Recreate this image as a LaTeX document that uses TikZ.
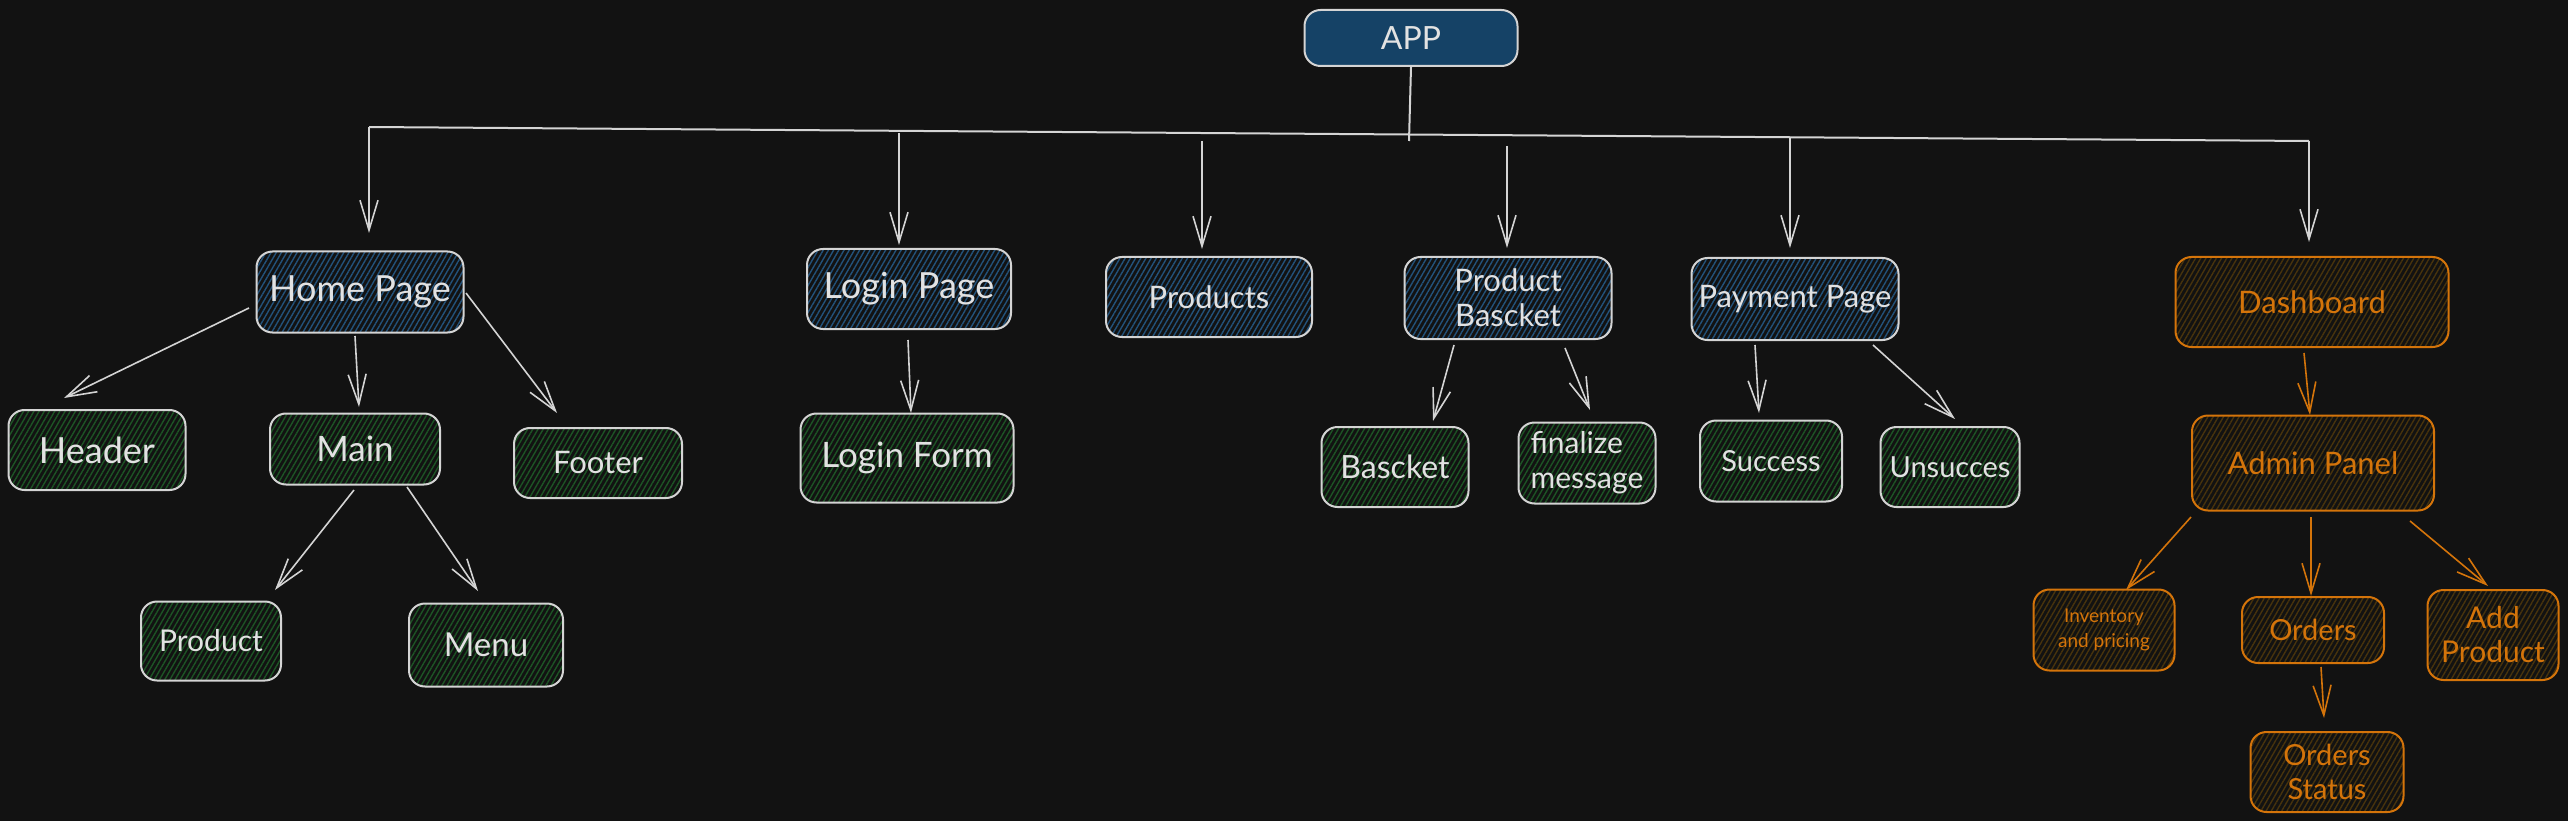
\documentclass[tikz,border=0pt]{standalone}
\usepackage{fontspec}
\setmainfont{Lato}
\usetikzlibrary{arrows.meta,patterns.meta,calc}
\definecolor{bg}{HTML}{121212}
\definecolor{lightc}{HTML}{D4D4D4}
\definecolor{textc}{HTML}{E2E2E2}
\definecolor{appfill}{HTML}{154266}
\definecolor{bluehatch}{HTML}{23527A}
\definecolor{greenhatch}{HTML}{1D5425}
\definecolor{orangec}{HTML}{D4740A}
\definecolor{orangehatch}{HTML}{47330D}
\newcommand\fsz[2]{\fontsize{#1}{#2}\selectfont}
\begin{document}
\begin{tikzpicture}[x=1pt,y=-1pt,
  box/.style={draw=lightc, line width=2pt, rounded corners=16pt, inner sep=0pt, align=center, text=textc},
  appbox/.style={box, fill=appfill},
  bluebox/.style={box, pattern={Lines[angle=60,distance=4.5pt,line width=1.4pt]}, pattern color=bluehatch},
  greenbox/.style={box, pattern={Lines[angle=60,distance=4.5pt,line width=1.4pt]}, pattern color=greenhatch},
  orangebox/.style={box, draw=orangec, text=orangec, pattern={Lines[angle=60,distance=4.5pt,line width=1.4pt]}, pattern color=orangehatch},
  conn/.style={draw=lightc, line width=1.6pt, -{Straight Barb[length=30pt,width=18pt,line width=1.6pt]}},
  oconn/.style={conn, draw=orangec},
  bar/.style={draw=lightc, line width=2pt},
]
\fill[bg] (0,0) rectangle (2568,821);
\useasboundingbox (0,0) rectangle (2568,821);

% top level
\node[appbox, minimum width=213pt, minimum height=56pt, font=\fsz{32}{38}] (app) at (1411,38) {APP};
\node[bluebox, minimum width=207pt, minimum height=81pt, font=\fsz{36}{42}] (home) at (360,292) {Home Page};
\node[bluebox, minimum width=204pt, minimum height=80pt, font=\fsz{36}{42}] (login) at (909,289) {Login Page};
\node[bluebox, minimum width=206pt, minimum height=80pt, font=\fsz{31}{36}] (products) at (1209,297) {Products};
\node[bluebox, minimum width=207pt, minimum height=82pt, font=\fsz{31}{35}] (basket) at (1508,298) {Product\\Bascket};
\node[bluebox, minimum width=207pt, minimum height=82pt, font=\fsz{31}{36}] (payment) at (1795,299) {Payment Page};
\node[orangebox, minimum width=273pt, minimum height=90pt, font=\fsz{31}{36}] (dash) at (2312,302) {Dashboard};

% second level
\node[greenbox, minimum width=177pt, minimum height=80pt, font=\fsz{36}{42}] (header) at (97,450) {Header};
\node[greenbox, minimum width=170pt, minimum height=71pt, font=\fsz{35}{41}] (main) at (355,449) {Main};
\node[greenbox, minimum width=168pt, minimum height=70pt, font=\fsz{31}{36}] (footer) at (598,463) {Footer};
\node[greenbox, minimum width=213pt, minimum height=89pt, font=\fsz{35}{41}] (loginform) at (907,458) {Login Form};
\node[greenbox, minimum width=140pt, minimum height=79pt, font=\fsz{30}{35}] (product) at (211,641) {Product};
\node[greenbox, minimum width=154pt, minimum height=83pt, font=\fsz{33}{38}] (menu) at (486,645) {Menu};
\node[greenbox, minimum width=147pt, minimum height=80pt, font=\fsz{32}{37}] (bascket) at (1395,467) {Bascket};
\node[greenbox, minimum width=137pt, minimum height=81pt, font=\fsz{30}{35}, align=left] (finalize) at (1587,463) {finalize\\message};
\node[greenbox, minimum width=142pt, minimum height=81pt, font=\fsz{29}{34}] (success) at (1771,461) {Success};
\node[greenbox, minimum width=139pt, minimum height=80pt, font=\fsz{29}{34}] (unsucc) at (1950,467) {Unsucces};
\node[orangebox, minimum width=242pt, minimum height=95pt, font=\fsz{31}{36}] (admin) at (2313,463) {Admin Panel};
\node[orangebox, minimum width=141pt, minimum height=81pt, font=\fsz{19}{25}] (inventory) at (2104,630) {Inventory\\and pricing};
\node[orangebox, minimum width=142pt, minimum height=66pt, font=\fsz{29}{34}] (orders) at (2313,630) {Orders};
\node[orangebox, minimum width=131pt, minimum height=90pt, font=\fsz{30}{34}] (addprod) at (2493,635) {Add\\Product};
\node[orangebox, minimum width=153pt, minimum height=80pt, font=\fsz{29}{34}] (status) at (2327,772) {Orders\\Status};

% trunk and bar
\coordinate (jL) at (369,127);
\coordinate (jR) at (2309,141);
\coordinate (jM) at (1409,141);
\coordinate (tLogin) at (899,133);
\coordinate (tProducts) at (1202,141);
\coordinate (tBasket) at (1507,146);
\coordinate (tPayment) at (1790,137);
\draw[bar] (app.south) -- (jM);
\draw[bar] (jL) -- (jR);

\draw[conn] (jL) -- ($(home.center)+(9,-59)$);
\draw[conn] (tLogin) -- ($(login.center)+(-10,-44)$);
\draw[conn] (tProducts) -- ($(products.center)+(-7,-48)$);
\draw[conn] (tBasket) -- ($(basket.center)+(-1,-50)$);
\draw[conn] (tPayment) -- ($(payment.center)+(-5,-51)$);
\draw[conn] (jR) -- ($(dash.center)+(-3,-60)$);

% children
\draw[conn] ($(home.center)+(-111,16)$) -- ($(header.center)+(-33,-52)$);
\draw[conn] ($(home.center)+(-5,44)$) -- ($(main.center)+(4,-42)$);
\draw[conn] ($(home.center)+(106,1)$) -- ($(footer.center)+(-41,-50)$);
\draw[conn] ($(login.center)+(-1,51)$) -- ($(loginform.center)+(4,-45)$);
\draw[conn] ($(main.center)+(-1,41)$) -- ($(product.center)+(64,-51)$);
\draw[conn] ($(main.center)+(52,38)$) -- ($(menu.center)+(-8,-54)$);
\draw[conn] ($(basket.center)+(-54,47)$) -- ($(bascket.center)+(38,-46)$);
\draw[conn] ($(basket.center)+(57,50)$) -- ($(finalize.center)+(3,-53)$);
\draw[conn] ($(payment.center)+(-40,46)$) -- ($(success.center)+(-12,-48)$);
\draw[conn] ($(payment.center)+(78,46)$) -- ($(unsucc.center)+(5,-48)$);
\draw[oconn] ($(dash.center)+(-8,51)$) -- ($(admin.center)+(-3,-48)$);
\draw[oconn] ($(admin.center)+(-122,54)$) -- ($(inventory.center)+(22,-40)$);
\draw[oconn] ($(admin.center)+(-2,54)$) -- ($(orders.center)+(-2,-34)$);
\draw[oconn] ($(admin.center)+(97,58)$) -- ($(addprod.center)+(-5,-49)$);
\draw[oconn] ($(orders.center)+(8,37)$) -- ($(status.center)+(-3,-54)$);
\end{tikzpicture}
\end{document}
